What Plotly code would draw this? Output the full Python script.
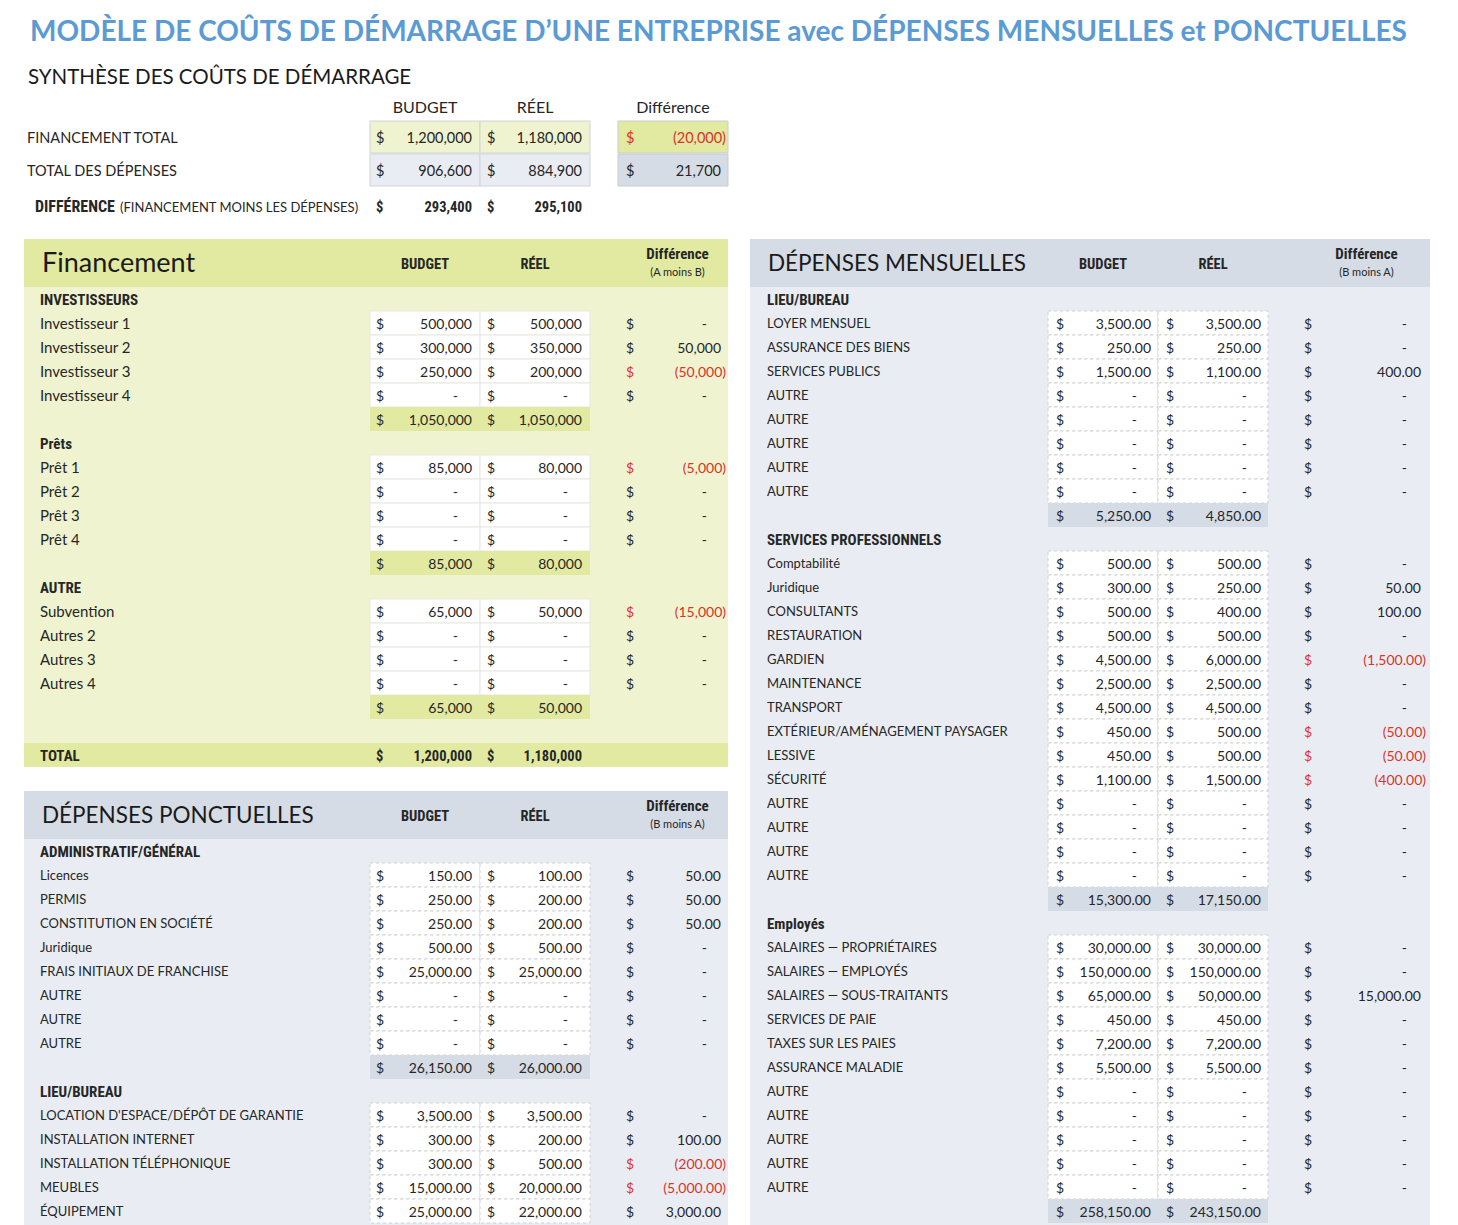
import plotly.graph_objects as go

# ---------------- data ----------------
title = "MODÈLE DE COÛTS DE DÉMARRAGE D’UNE ENTREPRISE avec DÉPENSES MENSUELLES et PONCTUELLES"

sum_labels = ["FINANCEMENT TOTAL", "TOTAL DES DÉPENSES"]
sum_budget = [1200000, 906600]
sum_reel = [1180000, 884900]
sum_diff = [-20000, 21700]
sum_net = [293400, 295100]

inv_labels = ["Investisseur 1", "Investisseur 2", "Investisseur 3", "Investisseur 4"]
inv_budget = [500000, 300000, 250000, 0]
inv_reel = [500000, 350000, 200000, 0]
inv_diff = [0, 50000, -50000, 0]
inv_sub = [1050000, 1050000]

pret_labels = ["Prêt 1", "Prêt 2", "Prêt 3", "Prêt 4"]
pret_budget = [85000, 0, 0, 0]
pret_reel = [80000, 0, 0, 0]
pret_diff = [-5000, 0, 0, 0]
pret_sub = [85000, 80000]

autre_labels = ["Subvention", "Autres 2", "Autres 3", "Autres 4"]
autre_budget = [65000, 0, 0, 0]
autre_reel = [50000, 0, 0, 0]
autre_diff = [-15000, 0, 0, 0]
autre_sub = [65000, 50000]

fin_total = [1200000, 1180000]

m_lieu_labels = ["LOYER MENSUEL", "ASSURANCE DES BIENS", "SERVICES PUBLICS",
                 "AUTRE", "AUTRE", "AUTRE", "AUTRE", "AUTRE"]
m_lieu_budget = [3500, 250, 1500, 0, 0, 0, 0, 0]
m_lieu_reel = [3500, 250, 1100, 0, 0, 0, 0, 0]
m_lieu_diff = [0, 0, 400, 0, 0, 0, 0, 0]
m_lieu_sub = [5250, 4850]

m_pro_labels = ["Comptabilité", "Juridique", "CONSULTANTS", "RESTAURATION", "GARDIEN",
                "MAINTENANCE", "TRANSPORT", "EXTÉRIEUR/AMÉNAGEMENT PAYSAGER", "LESSIVE",
                "SÉCURITÉ", "AUTRE", "AUTRE", "AUTRE", "AUTRE"]
m_pro_budget = [500, 300, 500, 500, 4500, 2500, 4500, 450, 450, 1100, 0, 0, 0, 0]
m_pro_reel = [500, 250, 400, 500, 6000, 2500, 4500, 500, 500, 1500, 0, 0, 0, 0]
m_pro_diff = [0, 50, 100, 0, -1500, 0, 0, -50, -50, -400, 0, 0, 0, 0]
m_pro_sub = [15300, 17150]

m_emp_labels = ["SALAIRES — PROPRIÉTAIRES", "SALAIRES — EMPLOYÉS", "SALAIRES — SOUS-TRAITANTS",
                "SERVICES DE PAIE", "TAXES SUR LES PAIES", "ASSURANCE MALADIE",
                "AUTRE", "AUTRE", "AUTRE", "AUTRE", "AUTRE"]
m_emp_budget = [30000, 150000, 65000, 450, 7200, 5500, 0, 0, 0, 0, 0]
m_emp_reel = [30000, 150000, 50000, 450, 7200, 5500, 0, 0, 0, 0, 0]
m_emp_diff = [0, 0, 15000, 0, 0, 0, 0, 0, 0, 0, 0]
m_emp_sub = [258150, 243150]

p_admin_labels = ["Licences", "PERMIS", "CONSTITUTION EN SOCIÉTÉ", "Juridique",
                  "FRAIS INITIAUX DE FRANCHISE", "AUTRE", "AUTRE", "AUTRE"]
p_admin_budget = [150, 250, 250, 500, 25000, 0, 0, 0]
p_admin_reel = [100, 200, 200, 500, 25000, 0, 0, 0]
p_admin_diff = [50, 50, 50, 0, 0, 0, 0, 0]
p_admin_sub = [26150, 26000]

p_lieu_labels = ["LOCATION D'ESPACE/DÉPÔT DE GARANTIE", "INSTALLATION INTERNET",
                 "INSTALLATION TÉLÉPHONIQUE", "MEUBLES", "ÉQUIPEMENT"]
p_lieu_budget = [3500, 300, 300, 15000, 25000]
p_lieu_reel = [3500, 200, 500, 20000, 22000]
p_lieu_diff = [0, 100, -200, -5000, 3000]

# ---------------- style ----------------
REG = "Lato"
BOLD = "Roboto Condensed"
INK = "#262626"
RED = "#D9342B"
GREEN_DARK = "#E2E9A0"
GREEN_LIGHT = "#EFF3CF"
GRAY_DARK = "#D6DCE5"
GRAY_LIGHT = "#E9EDF3"
ROW = 24
PAGE = 8   # the browser's body margin: the plot sits 8 px in from the top-left
TY = 2     # small downward nudge so text sits on the cell centre line

fig = go.Figure()
shapes = []


def rect(x0, y0, x1, y1, fill, line=None, dash="solid"):
    shapes.append(dict(type="rect", xref="x", yref="y", x0=x0, y0=y0, x1=x1, y1=y1,
                       fillcolor=fill, layer="below",
                       line=dict(color=line or fill, width=1 if line else 0, dash=dash)))


def txt(xs, ys, texts, size, color=INK, family=REG, pos="middle right", weight="normal"):
    fig.add_trace(go.Scatter(x=xs, y=[v + TY for v in ys], text=texts, mode="text",
                             textposition=pos, hoverinfo="skip", cliponaxis=True,
                             textfont=dict(family=family, size=size, color=color, weight=weight)))


def fmt(v, dec):
    if v == 0:
        return "-"
    s = f"{abs(v):,.{dec}f}"
    return f"({s})" if v < 0 else s


def xval(v, right):
    if v == 0:
        return right - 14
    return right + 5 if v < 0 else right


def money_col(ys, vals, dollar_x, right, dec, size=14, weight="normal", family=REG):
    cols = [RED if v < 0 else INK for v in vals]
    txt([dollar_x] * len(ys), ys, ["$"] * len(ys), size, cols, family, "middle right", weight)
    txt([xval(v, right) for v in vals], ys, [fmt(v, dec) for v in vals], size, cols,
        family, "middle left", weight)


LEFT = dict(lab=40, b0=370, b1=480, b2=590, bd=376, br=472, rd=487, rr=582, dd=626, dr=721)
RIGHT = dict(lab=767, b0=1048, b1=1158, b2=1268, bd=1056, br=1151, rd=1166, rr=1261, dd=1304, dr=1421)


def section(p, y0, head, labels, budget, reel, diff, sub, dec, sub_fill, cell_line, dash, lab_size):
    txt([p["lab"]], [y0], [head], 15, INK, BOLD, "middle right", "bold")
    ys = [y0 + ROW * (i + 1) for i in range(len(labels))]
    for y in ys:
        rect(p["b0"], y - ROW / 2, p["b1"], y + ROW / 2, "white", cell_line, dash)
        rect(p["b1"], y - ROW / 2, p["b2"], y + ROW / 2, "white", cell_line, dash)
    txt([p["lab"]] * len(ys), ys, labels, lab_size)
    money_col(ys, budget, p["bd"], p["br"], dec)
    money_col(ys, reel, p["rd"], p["rr"], dec)
    money_col(ys, diff, p["dd"], p["dr"], dec)
    y_next = y0 + ROW * (len(labels) + 1)
    if sub:
        rect(p["b0"], y_next - ROW / 2, p["b2"], y_next + ROW / 2, sub_fill)
        money_col([y_next], [sub[0]], p["bd"], p["br"], dec)
        money_col([y_next], [sub[1]], p["rd"], p["rr"], dec)
        y_next += ROW
    return y_next


def panel_head(p, x0, x1, y0, name, name_size, note, dark, light, y_end):
    rect(x0, y0, x1, y_end, light)
    rect(x0, y0, x1, y0 + 48, dark)
    yc = y0 + 24
    txt([x0 + 18], [yc], [name], name_size, "#1a1a1a")
    txt([(p["b0"] + p["b1"]) / 2, (p["b1"] + p["b2"]) / 2], [yc, yc], ["BUDGET", "RÉEL"],
        14.5, INK, BOLD, "middle center", "bold")
    xd = (p["dd"] + p["dr"]) / 2 + 4
    txt([xd], [yc - 10], ["Différence"], 15, INK, BOLD, "middle center", "bold")
    txt([xd], [yc + 8], [note], 11, INK, REG, "middle center")


# ---------------- title & summary ----------------
txt([30], [32], [title], 28, "#5B9BD5", REG, "middle right", "bold")
txt([28], [77], ["SYNTHÈSE DES COÛTS DE DÉMARRAGE"], 20.5, "#1a1a1a")
txt([425, 535, 673], [107, 107, 107], ["BUDGET", "RÉEL", "Différence"], 16, INK, REG, "middle center")

sum_y = [137, 170]
sum_fill = [(GREEN_LIGHT, GREEN_DARK), (GRAY_LIGHT, GRAY_DARK)]
for y, (light, dark) in zip(sum_y, sum_fill):
    rect(370, y - 16, 480, y + 16, light, "#D0D4D8")
    rect(480, y - 16, 590, y + 16, light, "#D0D4D8")
    rect(618, y - 16, 728, y + 16, dark, "#C8CDD2")
txt([27, 27], sum_y, sum_labels, 14.5)
money_col(sum_y, sum_budget, 376, 472, 0, 14.5)
money_col(sum_y, sum_reel, 487, 582, 0, 14.5)
money_col(sum_y, sum_diff, 626, 721, 0, 14.5)
txt([35], [206], ["DIFFÉRENCE"], 16, INK, BOLD, "middle right", "bold")
txt([120], [207], ["(FINANCEMENT MOINS LES DÉPENSES)"], 13, INK)
money_col([206], [sum_net[0]], 376, 472, 0, 14.5, "bold", BOLD)
money_col([206], [sum_net[1]], 487, 582, 0, 14.5, "bold", BOLD)

# ---------------- Financement ----------------
panel_head(LEFT, 24, 728, 239, "Financement", 27, "(A moins B)", GREEN_DARK, GREEN_LIGHT, 766)
y = 299
for head, lab, b, r, d, s in [("INVESTISSEURS", inv_labels, inv_budget, inv_reel, inv_diff, inv_sub),
                              ("Prêts", pret_labels, pret_budget, pret_reel, pret_diff, pret_sub),
                              ("AUTRE", autre_labels, autre_budget, autre_reel, autre_diff, autre_sub)]:
    y = section(LEFT, y, head, lab, b, r, d, s, 0, GREEN_DARK, "#E6E8E0", "solid", 15)
y_tot = y + ROW
rect(24, y_tot - 12, 728, y_tot + 12, GREEN_DARK)
txt([40], [y_tot], ["TOTAL"], 15, INK, BOLD, "middle right", "bold")
money_col([y_tot], [fin_total[0]], 376, 472, 0, 14.5, "bold", BOLD)
money_col([y_tot], [fin_total[1]], 487, 582, 0, 14.5, "bold", BOLD)

# ---------------- Dépenses ponctuelles ----------------
panel_head(LEFT, 24, 728, 791, "DÉPENSES PONCTUELLES", 22.5, "(B moins A)", GRAY_DARK, GRAY_LIGHT, 1240)
y = 851
y = section(LEFT, y, "ADMINISTRATIF/GÉNÉRAL", p_admin_labels, p_admin_budget, p_admin_reel,
            p_admin_diff, p_admin_sub, 2, GRAY_DARK, "#CFCFCF", "dot", 13)
y = section(LEFT, y, "LIEU/BUREAU", p_lieu_labels, p_lieu_budget, p_lieu_reel,
            p_lieu_diff, None, 2, GRAY_DARK, "#CFCFCF", "dot", 13)

# ---------------- Dépenses mensuelles ----------------
panel_head(RIGHT, 750, 1430, 239, "DÉPENSES MENSUELLES", 22.5, "(B moins A)", GRAY_DARK, GRAY_LIGHT, 1240)
y = 299
for head, lab, b, r, d, s in [("LIEU/BUREAU", m_lieu_labels, m_lieu_budget, m_lieu_reel, m_lieu_diff, m_lieu_sub),
                              ("SERVICES PROFESSIONNELS", m_pro_labels, m_pro_budget, m_pro_reel, m_pro_diff, m_pro_sub),
                              ("Employés", m_emp_labels, m_emp_budget, m_emp_reel, m_emp_diff, m_emp_sub)]:
    y = section(RIGHT, y, head, lab, b, r, d, s, 2, GRAY_DARK, "#CFCFCF", "dot", 13)

fig.update_layout(width=1458 - PAGE, height=1225 - PAGE, margin=dict(l=0, r=0, t=0, b=0),
                  showlegend=False, plot_bgcolor="white", paper_bgcolor="white", shapes=shapes,
                  xaxis=dict(range=[PAGE, 1458], visible=False, fixedrange=True),
                  yaxis=dict(range=[1225, PAGE], visible=False, fixedrange=True))
fig.write_html("out.html")
